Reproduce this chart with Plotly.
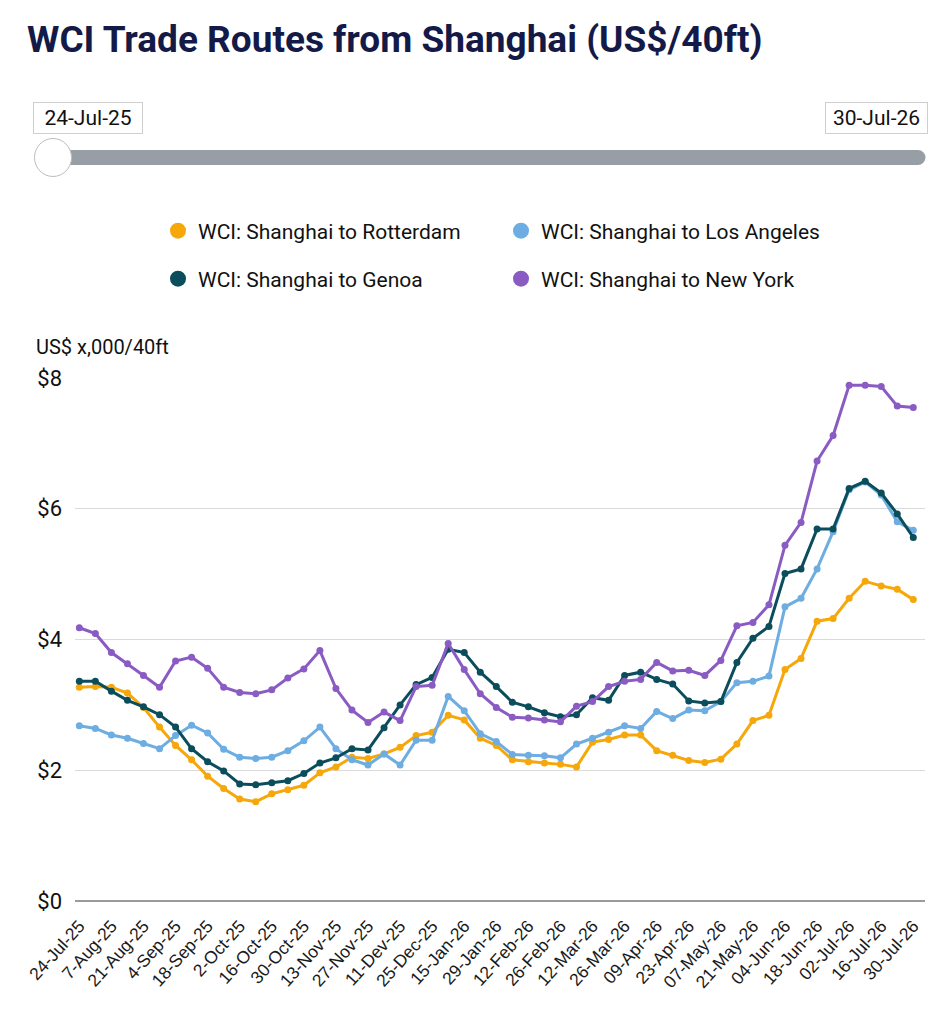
import plotly.graph_objects as go

# weekly WCI spot rates, US$ thousand per 40ft box
tick_labels = ["24-Jul-25", "7-Aug-25", "21-Aug-25", "4-Sep-25", "18-Sep-25", "2-Oct-25",
               "16-Oct-25", "30-Oct-25", "13-Nov-25", "27-Nov-25", "11-Dev-25", "25-Dec-25",
               "15-Jan-26", "29-Jan-26", "12-Feb-26", "26-Feb-26", "12-Mar-26", "26-Mar-26",
               "09-Apr-26", "23-Apr-26", "07-May-26", "21-May-26", "04-Jun-26", "18-Jun-26",
               "02-Jul-26", "16-Jul-26", "30-Jul-26"]

rotterdam = [3.27, 3.28, 3.27, 3.18, 2.96, 2.66, 2.38, 2.16, 1.91, 1.72, 1.56, 1.52, 1.64,
             1.70, 1.77, 1.96, 2.05, 2.20, 2.18, 2.25, 2.35, 2.53, 2.58, 2.84, 2.77, 2.49,
             2.38, 2.16, 2.13, 2.11, 2.09, 2.05, 2.43, 2.47, 2.54, 2.54, 2.30, 2.23, 2.15,
             2.12, 2.17, 2.40, 2.76, 2.84, 3.54, 3.71, 4.28, 4.32, 4.63, 4.89, 4.82, 4.77, 4.61]
los_angeles = [2.68, 2.64, 2.54, 2.49, 2.41, 2.33, 2.53, 2.69, 2.57, 2.32, 2.20, 2.18, 2.20,
               2.30, 2.45, 2.66, 2.33, 2.16, 2.08, 2.25, 2.08, 2.46, 2.46, 3.13, 2.91, 2.56,
               2.44, 2.24, 2.23, 2.22, 2.19, 2.40, 2.49, 2.58, 2.68, 2.64, 2.90, 2.79, 2.92,
               2.91, 3.05, 3.34, 3.36, 3.44, 4.50, 4.63, 5.08, 5.65, 6.29, 6.41, 6.21, 5.80, 5.67]
genoa = [3.36, 3.36, 3.21, 3.07, 2.97, 2.85, 2.66, 2.33, 2.13, 1.99, 1.79, 1.78, 1.81,
         1.84, 1.95, 2.11, 2.19, 2.33, 2.31, 2.65, 3.00, 3.31, 3.42, 3.85, 3.80, 3.50,
         3.28, 3.04, 2.97, 2.88, 2.82, 2.85, 3.11, 3.07, 3.45, 3.50, 3.39, 3.32, 3.06,
         3.03, 3.05, 3.65, 4.02, 4.20, 5.01, 5.08, 5.69, 5.69, 6.31, 6.42, 6.24, 5.92, 5.56]
new_york = [4.18, 4.09, 3.80, 3.63, 3.45, 3.27, 3.67, 3.73, 3.56, 3.27, 3.19, 3.17, 3.23,
            3.41, 3.55, 3.83, 3.25, 2.92, 2.73, 2.89, 2.76, 3.28, 3.30, 3.94, 3.54, 3.17,
            2.96, 2.81, 2.80, 2.77, 2.74, 2.98, 3.05, 3.28, 3.36, 3.39, 3.65, 3.52, 3.53,
            3.45, 3.68, 4.21, 4.26, 4.53, 5.44, 5.79, 6.73, 7.12, 7.89, 7.89, 7.87, 7.57, 7.55]

y_ticks = [0, 2, 4, 6, 8]
y_tick_text = ["$0", "$2", "$4", "$6", "$8"]

routes = [
    ("WCI: Shanghai to Rotterdam", rotterdam, "#F6A70A", "legend"),
    ("WCI: Shanghai to Los Angeles", los_angeles, "#6DADE2", "legend"),
    ("WCI: Shanghai to Genoa", genoa, "#0C4D5C", "legend2"),
    ("WCI: Shanghai to New York", new_york, "#8A5CC3", "legend2"),
]

# page has an 8px body margin, so the figure is 16px smaller than the window
W, H = 936, 1008
ML, MR, MT, MB = 67, 19, 370, 115
weeks = list(range(len(rotterdam)))


def px(x):
    # page pixel -> paper x
    return (x - 8 - ML) / (W - ML - MR)


def py(y):
    # page pixel -> paper y
    return (H - MB - (y - 8)) / (H - MT - MB)


fig = go.Figure()
for name, vals, col, leg in routes:
    fig.add_trace(go.Scatter(x=weeks, y=vals, mode="lines+markers", name=name,
                             line=dict(color=col, width=3),
                             marker=dict(color=col, size=7),
                             showlegend=False, hoverinfo="y+name"))
# legend entries as plain dots
for name, vals, col, leg in routes:
    fig.add_trace(go.Scatter(x=[None], y=[None], mode="markers", name=name,
                             marker=dict(color=col, size=18), legend=leg))

font = "Roboto, Arial, sans-serif"
leg_style = dict(orientation="h", xanchor="left", yanchor="middle",
                 entrywidth=298, entrywidthmode="pixels",
                 font=dict(family=font, size=21, color="#111"), bgcolor="rgba(0,0,0,0)")

fig.update_layout(
    width=W, height=H,
    margin=dict(l=ML, r=MR, t=MT, b=MB),
    paper_bgcolor="white", plot_bgcolor="white",
    title=dict(text="<b>WCI Trade Routes from Shanghai (US$/40ft)</b>", x=(27 - 8) / W,
               xref="container", xanchor="left", y=1 - (39 - 8) / H, yanchor="middle",
               font=dict(family=font, size=37, color="#141A48")),
    legend=dict(x=px(158), y=py(231), **leg_style),
    legend2=dict(x=px(158), y=py(279), **leg_style),
    xaxis=dict(range=[-0.27, 52.73], tickvals=weeks[::2], ticktext=tick_labels,
               tickangle=-48, showgrid=False, zeroline=False, showline=False, automargin=False,
               ticks="outside", ticklen=7, tickcolor="rgba(0,0,0,0)",
               tickfont=dict(family="Liberation Sans, Arial", size=17.5, color="#1A1A1A")),
    yaxis=dict(range=[0, 8], tickvals=y_ticks, ticktext=y_tick_text, automargin=False,
               gridcolor="#DADADA", gridwidth=1, zeroline=True, zerolinecolor="#9A9A9A",
               zerolinewidth=2, ticklabelstandoff=12,
               tickfont=dict(family=font, size=22, color="#111")),
)

fig.add_annotation(text="US$ x,000/40ft", xref="paper", yref="paper", x=px(34), y=py(347),
                   xanchor="left", yanchor="middle", showarrow=False,
                   font=dict(family=font, size=20, color="#111"))

# range slider look-alike
rail = "#979EA6"
fig.add_shape(type="rect", xref="paper", yref="paper", x0=px(43), x1=px(918),
              y0=py(165), y1=py(150), fillcolor=rail, line_width=0, layer="above")
for cx in (43, 918):
    fig.add_shape(type="circle", xref="paper", yref="paper", x0=px(cx - 7.5), x1=px(cx + 7.5),
                  y0=py(165), y1=py(150), fillcolor=rail, line_width=0, layer="above")
fig.add_shape(type="circle", xref="paper", yref="paper", x0=px(34.5), x1=px(71.5),
              y0=py(176.5), y1=py(138.5), fillcolor="white", line=dict(color="#BDBDBD", width=1),
              layer="above")
for lab, cx, bw in ((tick_labels[0], 88, 108), (tick_labels[-1], 876.5, 101)):
    fig.add_annotation(text=lab, xref="paper", yref="paper", x=px(cx), y=py(117.5),
                       xanchor="center", yanchor="middle",
                       showarrow=False, bgcolor="white", bordercolor="#CFCFCF", borderwidth=1,
                       width=bw, height=30, borderpad=0,
                       font=dict(family=font, size=21, color="#111"))

fig.write_html("out.html")
